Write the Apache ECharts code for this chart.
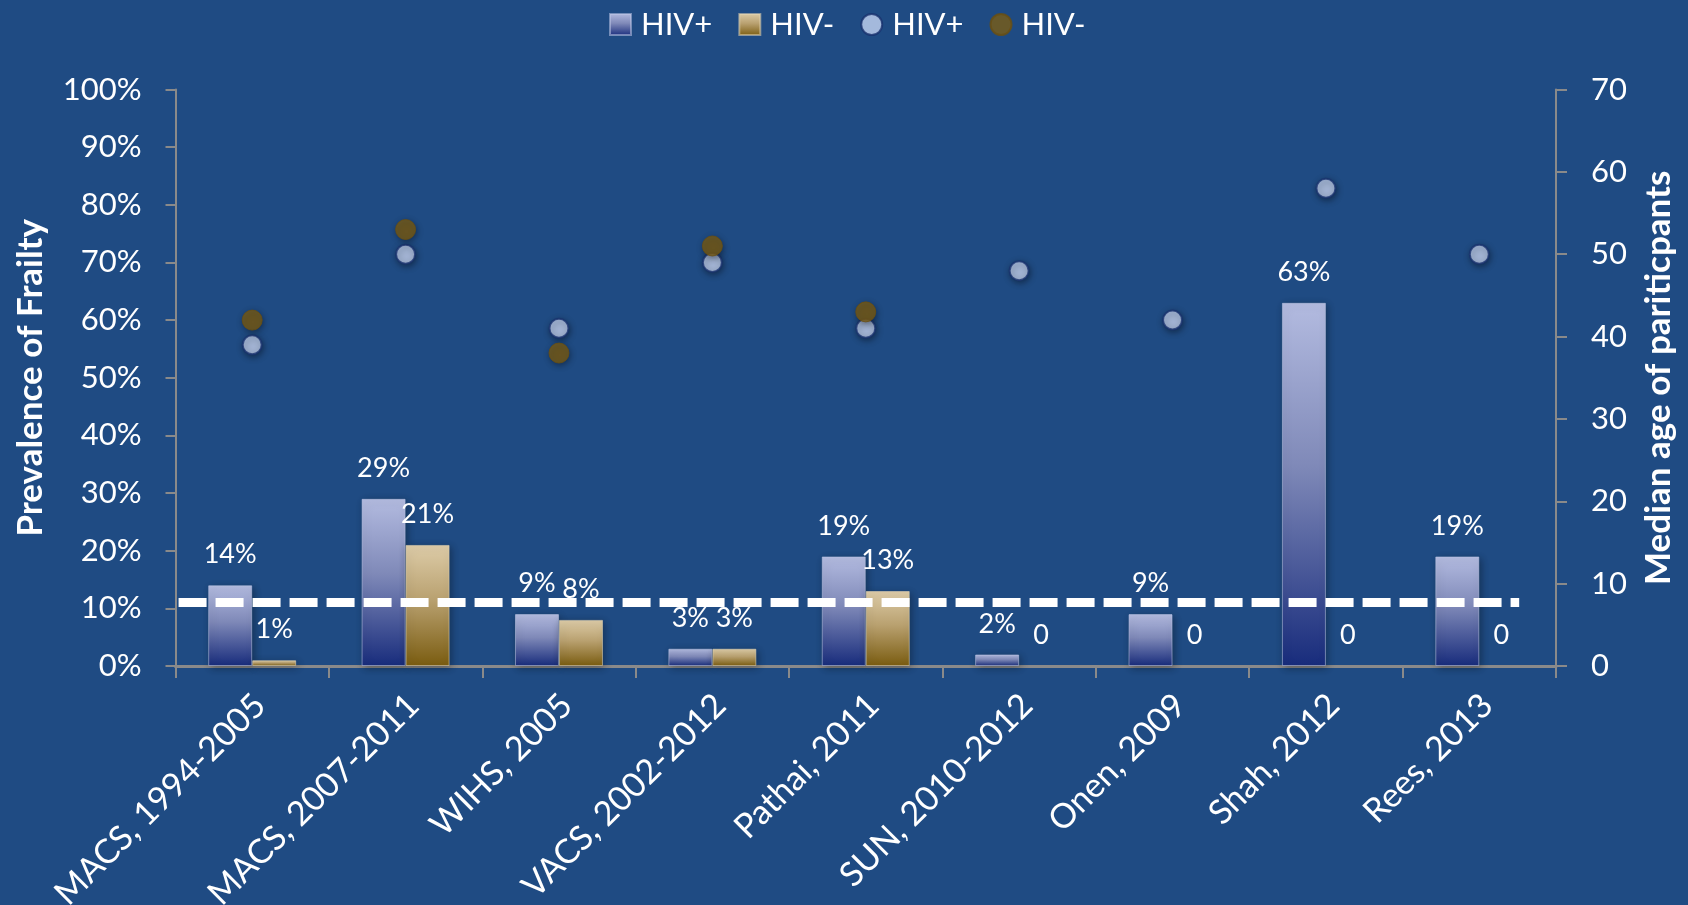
<!DOCTYPE html>
<html>
<head>
<meta charset="utf-8">
<script src="https://cdn.jsdelivr.net/npm/echarts@6/dist/echarts.min.js"></script>
<style>
  html, body { margin: 0; padding: 0; background: #1f4b83; }
  #chart { width: 1688px; height: 905px; }
</style>
</head>
<body>
<div id="chart"></div>
<script>
// Studies reporting frailty prevalence in people with and without HIV
const studies = ['MACS, 1994-2005', 'MACS, 2007-2011', 'WIHS, 2005', 'VACS, 2002-2012',
                 'Pathai, 2011', 'SUN, 2010-2012', 'Onen, 2009', 'Shah, 2012', 'Rees, 2013'];

// Prevalence of frailty, percent
const frailtyHivPos = [14, 29, 9, 3, 19, 2, 9, 63, 19];
const frailtyHivNeg = [1, 21, 8, 3, 13, 0, 0, 0, 0];

// Median age of participants, years
const ageHivPos = [39, 50, 41, 49, 41, 48, 42, 58, 50];
const ageHivNeg = [42, 53, 38, 51, 43, null, null, null, null];

// General-population reference level, percent
const referenceLevel = 11;

// Axis ranges
const prevalenceMax = 100, prevalenceStep = 10;
const ageMax = 70, ageStep = 10;

const FONT = 'Lato, "Open Sans", sans-serif';
const AXIS_GREY = '#8a8a8a';

const blueGradient = new echarts.graphic.LinearGradient(0, 0, 0, 1, [
  { offset: 0, color: '#b3bbe0' },
  { offset: 0.45, color: '#7f89b8' },
  { offset: 1, color: '#182c7c' }
]);
const goldGradient = new echarts.graphic.LinearGradient(0, 0, 0, 1, [
  { offset: 0, color: '#ddcca8' },
  { offset: 0.45, color: '#b9a170' },
  { offset: 1, color: '#7a5c10' }
]);

const barShadow = {
  shadowBlur: 8, shadowColor: 'rgba(0,0,0,0.35)', shadowOffsetX: 2, shadowOffsetY: 2
};

// zero-valued bars keep their "0" label but draw no outline
function barItems(values) {
  return values.map(v => v === 0 ? { value: v, itemStyle: { borderWidth: 0, shadowBlur: 0, shadowOffsetX: 0, shadowOffsetY: 0 } } : v);
}

function pctLabel(p) { return p.value === 0 ? '0' : p.value + '%'; }

const chart = echarts.init(document.getElementById('chart'), null, { renderer: 'canvas' });

chart.setOption({
  backgroundColor: '#1f4b83',
  animation: false,
  textStyle: { fontFamily: FONT, color: '#ffffff' },
  legend: {
    top: 4,
    left: 604,
    itemWidth: 21,
    itemHeight: 21,
    itemGap: 26,
    textStyle: { color: '#ffffff', fontSize: 31, fontFamily: FONT, padding: [0, 0, 0, 5] },
    formatter: name => name.split(' ')[0],
    data: [
      { name: 'HIV+ frailty', icon: 'rect' },
      { name: 'HIV- frailty', icon: 'rect' },
      { name: 'HIV+ age', icon: 'circle' },
      { name: 'HIV- age', icon: 'circle' }
    ]
  },
  grid: {
    left: 175.5, right: 132, top: 89.5, bottom: 239,
    containLabel: false,
    outerBoundsMode: 'none'
  },
  xAxis: [
    {
      type: 'category',
      data: studies,
      boundaryGap: true,
      axisLine: { show: true, lineStyle: { color: AXIS_GREY, width: 3 } },
      axisTick: { show: true, length: 12, alignWithLabel: false, lineStyle: { color: AXIS_GREY, width: 2 } },
      axisLabel: {
        interval: 0, rotate: 45, margin: 26, verticalAlign: 'top', lineHeight: 22,
        color: '#ffffff', fontSize: 34, fontFamily: FONT
      },
      splitLine: { show: false }
    },
    {
      // index scale underneath the categories, used for the reference line
      type: 'value',
      min: -0.5, max: studies.length - 0.5,
      show: false
    }
  ],
  yAxis: [
    {
      type: 'value',
      min: 0, max: prevalenceMax, interval: prevalenceStep,
      name: 'Prevalence of Frailty',
      nameLocation: 'middle',
      nameGap: 127,
      nameRotate: 90,
      nameTextStyle: { color: '#ffffff', fontSize: 35, fontWeight: 'bold', fontFamily: FONT },
      axisLine: { show: true, onZero: false, lineStyle: { color: AXIS_GREY, width: 2 } },
      axisTick: { show: true, length: 10, lineStyle: { color: AXIS_GREY, width: 2 } },
      axisLabel: { color: '#ffffff', fontSize: 31, margin: 34, formatter: '{value}%', fontFamily: FONT },
      splitLine: { show: false }
    },
    {
      type: 'value',
      position: 'right',
      min: 0, max: ageMax, interval: ageStep,
      name: 'Median age of pariticpants',
      nameLocation: 'middle',
      nameGap: 85,
      nameRotate: 90,
      nameTextStyle: { color: '#ffffff', fontSize: 35, fontWeight: 'bold', fontFamily: FONT },
      axisLine: { show: true, onZero: false, lineStyle: { color: AXIS_GREY, width: 2 } },
      axisTick: { show: true, length: 11, lineStyle: { color: AXIS_GREY, width: 2 } },
      axisLabel: { color: '#ffffff', fontSize: 31, margin: 35, fontFamily: FONT },
      splitLine: { show: false }
    }
  ],
  series: [
    {
      name: 'HIV+ frailty',
      type: 'bar',
      data: barItems(frailtyHivPos),
      barWidth: 44,
      barGap: '0%',
      itemStyle: Object.assign({ color: blueGradient, borderColor: 'rgba(190,198,230,0.55)', borderWidth: 1 }, barShadow),
      label: { show: true, position: 'top', distance: 17, color: '#ffffff', fontSize: 27, fontFamily: FONT, formatter: pctLabel },
      z: 2
    },
    {
      name: 'HIV- frailty',
      type: 'bar',
      data: barItems(frailtyHivNeg),
      barWidth: 44,
      barGap: '0%',
      itemStyle: Object.assign({ color: goldGradient, borderColor: 'rgba(230,215,180,0.55)', borderWidth: 1 }, barShadow),
      label: { show: true, position: 'top', distance: 17, color: '#ffffff', fontSize: 27, fontFamily: FONT, formatter: pctLabel },
      z: 2
    },
    {
      name: 'HIV+ age',
      type: 'scatter',
      yAxisIndex: 1,
      data: ageHivPos,
      symbol: 'circle',
      symbolSize: 19,
      itemStyle: {
        color: '#c6d5f2', borderColor: '#19326e', borderWidth: 2,
        shadowBlur: 6, shadowColor: 'rgba(0,0,0,0.45)', shadowOffsetX: 1, shadowOffsetY: 2
      },
      z: 4
    },
    {
      name: 'HIV- age',
      type: 'scatter',
      yAxisIndex: 1,
      data: ageHivNeg,
      symbol: 'circle',
      symbolSize: 20,
      itemStyle: {
        color: '#7a5c14', borderColor: '#6a4f10', borderWidth: 1,
        shadowBlur: 6, shadowColor: 'rgba(0,0,0,0.45)', shadowOffsetX: 1, shadowOffsetY: 2
      },
      z: 4
    },
    {
      name: 'reference',
      type: 'line',
      xAxisIndex: 1,
      yAxisIndex: 0,
      data: [[-0.48, referenceLevel], [studies.length - 0.74, referenceLevel]],
      symbol: 'none',
      silent: true,
      lineStyle: { color: '#ffffff', width: 9, type: [28, 9], cap: 'butt' },
      z: 5
    }
  ]
});
</script>
</body>
</html>
